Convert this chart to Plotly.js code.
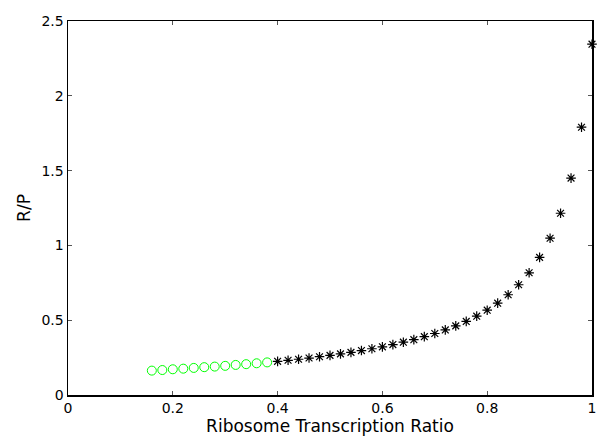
<!DOCTYPE html>
<html>
<head>
<meta charset="utf-8">
<script src="https://cdn.plot.ly/plotly-3.0.1.min.js"></script>
<style>html,body{margin:0;padding:0;background:#fff;}#chart{width:597px;height:438px;}</style>
</head>
<body>
<div id="chart"></div>
<script>
const greenX = [0.16, 0.18, 0.20, 0.22, 0.24, 0.26, 0.28, 0.30, 0.32, 0.34, 0.36, 0.38];
const greenY = [0.163, 0.167, 0.172, 0.176, 0.181, 0.186, 0.190, 0.195, 0.201, 0.206, 0.212, 0.218];
const blackX = [0.40, 0.42, 0.44, 0.46, 0.48, 0.50, 0.52, 0.54, 0.56, 0.58, 0.60, 0.62, 0.64, 0.66, 0.68, 0.70,
                0.72, 0.74, 0.76, 0.78, 0.80, 0.82, 0.84, 0.86, 0.88, 0.90, 0.92, 0.94, 0.96, 0.98, 1.00];
const blackY = [0.225, 0.232, 0.239, 0.247, 0.256, 0.265, 0.275, 0.285, 0.297, 0.309, 0.322, 0.337, 0.353, 0.370, 0.390, 0.411,
                0.435, 0.462, 0.492, 0.527, 0.567, 0.614, 0.670, 0.737, 0.817, 0.920, 1.048, 1.215, 1.450, 1.790, 2.345];
const xTicks = [0, 0.2, 0.4, 0.6, 0.8, 1];
const yTicks = [0, 0.5, 1, 1.5, 2, 2.5];

const FONT = 'DejaVu Sans, Liberation Sans, Arial, sans-serif';

const traces = [
  {x: greenX, y: greenY, type: 'scatter', mode: 'markers',
   marker: {symbol: 'circle-open', size: 9, color: '#00ff00', line: {width: 1, color: '#00ff00'}},
   showlegend: false, cliponaxis: false},
  {x: blackX, y: blackY, type: 'scatter', mode: 'markers',
   marker: {symbol: 'asterisk-open', size: 8, color: '#000000', line: {width: 1.2, color: '#000000'}},
   showlegend: false, cliponaxis: false}
];

const axisCommon = {
  showgrid: false, zeroline: false, showline: true, linecolor: '#000', linewidth: 1.5,
  mirror: 'ticks', ticks: 'inside', ticklen: 4, tickcolor: '#555', tickwidth: 1,
  tickfont: {family: FONT, size: 14, color: '#000'}
};

const layout = {
  width: 597, height: 438,
  margin: {l: 68, r: 5, t: 21, b: 43},
  paper_bgcolor: '#fff', plot_bgcolor: '#fff',
  xaxis: Object.assign({}, axisCommon, {
    range: [0, 1], tickvals: xTicks, ticktext: xTicks.map(String),
    title: {text: 'Ribosome Transcription Ratio', standoff: 2,
            font: {family: FONT, size: 17, color: '#000'}}
  }),
  yaxis: Object.assign({}, axisCommon, {
    range: [0, 2.5], tickvals: yTicks, ticktext: yTicks.map(String),
    title: {text: 'R/P', standoff: 6,
            font: {family: FONT, size: 17, color: '#000'}}
  })
};

Plotly.newPlot('chart', traces, layout, {displayModeBar: false, staticPlot: true});
</script>
</body>
</html>
